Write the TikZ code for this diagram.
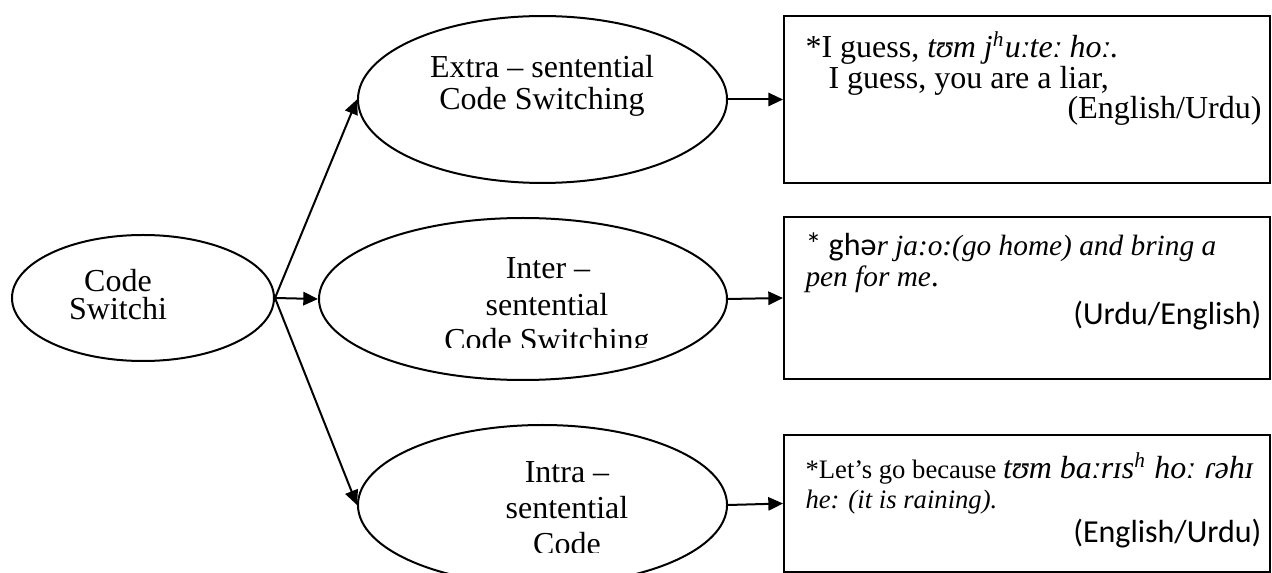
\documentclass[tikz,border=0pt]{standalone}
\usepackage{fontspec}
\setmainfont{Liberation Serif}
\newfontfamily\calibri{Carlito}
\usetikzlibrary{arrows.meta,shapes.geometric}

\tikzset{
  oval/.style={draw, ellipse, line width=0.75pt, inner sep=0pt},
  exbox/.style={draw, rectangle, line width=0.75pt, inner sep=0pt},
  arr/.style={line width=0.75pt, -{Triangle[length=5.5pt,width=5pt]}},
  lbl/.style={inner sep=0pt, font=\fontsize{12}{14}\selectfont},
  small/.style={inner sep=0pt, font=\fontsize{10}{12}\selectfont},
}

\begin{document}
\begin{tikzpicture}[x=0.375pt,y=0.375pt,yscale=-1,xscale=1]
\useasboundingbox (0,0) rectangle (1272,573);

%Shape: Ellipse [id:cs]
\node [oval, minimum width=98.25pt, minimum height=47.25pt] (cs) at (143,298) {};
%Shape: Ellipse [id:extra]
\node [oval, minimum width=138.4pt, minimum height=62.6pt] (extra) at (542.5,99.5) {};
%Shape: Ellipse [id:inter]
\node [oval, minimum width=153pt, minimum height=60.75pt] (inter) at (523,299) {};
%Shape: Ellipse [id:intra]
\node [oval, minimum width=138.4pt, minimum height=60pt] (intra) at (542.5,505) {};

%Shape: Rectangle [id:exone]
\node [exbox, minimum width=182.25pt, minimum height=62.6pt] (exone) at (1027,99.5) {};
%Shape: Rectangle [id:extwo]
\node [exbox, minimum width=182.25pt, minimum height=60.75pt] (extwo) at (1027,298) {};
%Shape: Rectangle [id:exthree]
\node [exbox, minimum width=182.25pt, minimum height=51.4pt] (exthree) at (1027,503.5) {};

%Straight Lines
\draw [arr] (cs.east) -- (extra.west);
\draw [arr] (cs.east) -- (inter.west);
\draw [arr] (cs.east) -- (intra.west);
\draw [arr] (extra.east) -- (exone.west);
\draw [arr] (inter.east) -- (extwo.west);
\draw [arr] (intra.east) -- (exthree.west);

% Text Node
\node [lbl, align=center, font=\fontsize{12}{10.5}\selectfont] (cstext) at (118,295) {Code\\Switchi};
% Text Node
\node [lbl, anchor=base] (extraa) at (542,78) {Extra -- sentential};
% Text Node
\node [lbl, anchor=base] (extrab) at (542,110) {Code Switching};
% Text Node
\node [lbl, anchor=base] (intera) at (548,279) {Inter --};
% Text Node
\node [lbl, anchor=base] (interb) at (547,316) {sentential};
% Text Node
\begin{scope}
\clip (400,322) rectangle (700,348);
\node [lbl, anchor=base] (interc) at (547,351) {Code Switching};
\end{scope}
% Text Node
\node [lbl, anchor=base] (intraa) at (567,483) {Intra --};
% Text Node
\node [lbl, anchor=base] (intrab) at (567,519) {sentential};
% Text Node
\begin{scope}
\clip (400,527) rectangle (700,553);
\node [lbl, anchor=base] (intrac) at (567,555) {Code};
\end{scope}

% Text Node
\node [lbl, anchor=base west] (onea) at (805,58) {*I guess, \textit{tʊm j\textsuperscript{h}uːteː hoː.}};
% Text Node
\node [lbl, anchor=base west] (oneb) at (828,89) {I guess, you are a liar,};
% Text Node
\node [lbl, anchor=base east] (onec) at (1262,119) {(English/Urdu)};
% Text Node
\node [lbl, anchor=base west] (twoa) at (805,256) {{\calibri * ghə}{\fontsize{11}{13}\selectfont\itshape r ja:o:(go home) and bring a}};
% Text Node
\node [lbl, anchor=base west] (twob) at (805,287) {{\fontsize{11}{13}\selectfont\itshape pen for me}.};
% Text Node
\node [lbl, anchor=base east] (twoc) at (1262,325) {\calibri (Urdu/English)};
% Text Node
\node [small, anchor=base west] (threea) at (805,479) {*Let’s go because {\fontsize{12}{14}\selectfont\itshape tʊm baːrɪs\textsuperscript{h} hoː ɾəhɪ}};
% Text Node
\node [small, anchor=base west] (threeb) at (805,509) {\textit{he: (it is raining).}};
% Text Node
\node [lbl, anchor=base east] (threec) at (1262,543) {\calibri (English/Urdu)};

\end{tikzpicture}
\end{document}
